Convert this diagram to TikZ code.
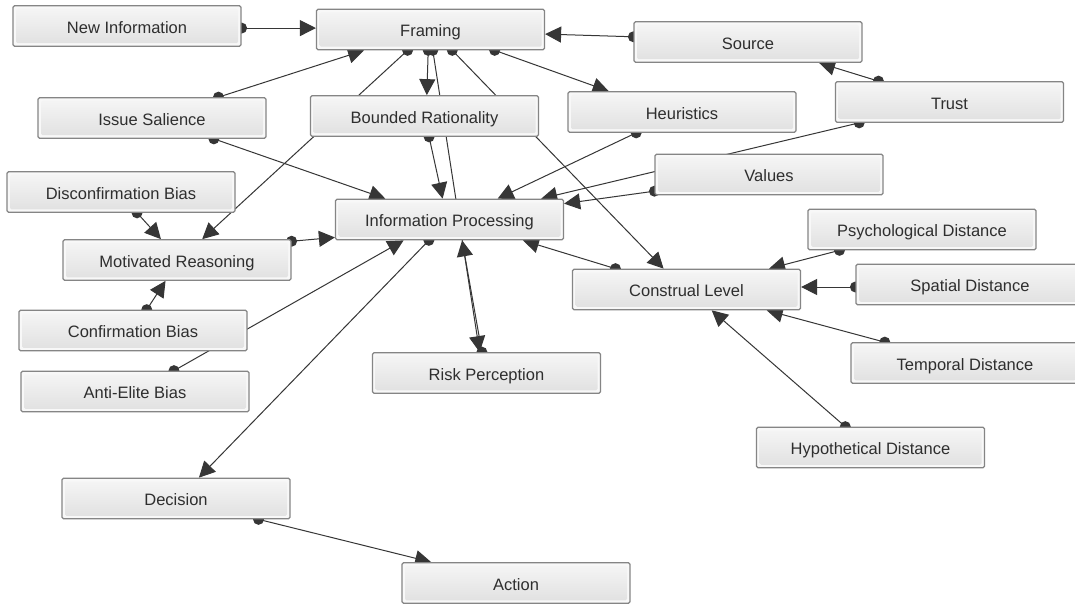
\documentclass[tikz,border=0pt]{standalone}
\usepackage{fontspec}
\setmainfont{Liberation Sans}
\usetikzlibrary{arrows.meta,calc}

\definecolor{edgec}{HTML}{363636}
\definecolor{boxline}{HTML}{858585}
\definecolor{boxout}{HTML}{F8F8F8}
\definecolor{boxtop}{HTML}{F6F6F6}
\definecolor{boxbot}{HTML}{E0E0E0}
\definecolor{txt}{HTML}{2E2E2E}

\pgfdeclarelayer{bg}
\pgfsetlayers{bg,main}

\tikzset{
  box/.style={draw=boxline, line width=1.2pt, rounded corners=1.5pt, fill=boxout,
    minimum width=228pt, minimum height=40.5pt, inner sep=0pt, text=txt,
    text height=14.8pt, text depth=0pt,
    font=\fontsize{16.5}{18}\selectfont,
    path picture={\shade[top color=boxtop, bottom color=boxbot]
      ([xshift=3pt,yshift=-3pt]path picture bounding box.north west) rectangle
      ([xshift=-3pt,yshift=3pt]path picture bounding box.south east);}},
  link/.style={draw=edgec, line width=1pt, -{Triangle[length=16pt,width=16pt]}},
  dotc/.style={fill=edgec}
}

\begin{document}
\begin{tikzpicture}[x=1pt,y=-1pt]
\clip (0,0) rectangle (1075,604);

% concept boxes
\node[box] (newinfo)   at (127,26)      {New Information};
\node[box] (framing)   at (430.5,29.5)  {Framing};
\node[box] (source)    at (748,42)      {Source};
\node[box] (trust)     at (949.5,102)   {Trust};
\node[box] (heur)      at (682,112)     {Heuristics};
\node[box] (values)    at (769,174.5)   {Values};
\node[box] (issue)     at (152,118)     {Issue Salience};
\node[box] (bounded)   at (424.5,116)   {Bounded Rationality};
\node[box] (disconf)   at (121,192)     {Disconfirmation Bias};
\node[box] (motiv)     at (177,260)     {Motivated Reasoning};
\node[box] (confirm)   at (133,330.5)   {Confirmation Bias};
\node[box] (antielite) at (135,391.5)   {Anti-Elite Bias};
\node[box] (infoproc)  at (449.5,219.5) {Information Processing};
\node[box] (risk)      at (486.5,373)   {Risk Perception};
\node[box] (construal) at (686.5,289.5) {Construal Level};
\node[box] (psych)     at (922,229.5)   {Psychological Distance};
\node[box] (spatial)   at (970,284.5)   {Spatial Distance};
\node[box] (temporal)  at (965,363)     {Temporal Distance};
\node[box] (hypo)      at (870.5,447.5) {Hypothetical Distance};
\node[box] (decision)  at (176,498.5)   {Decision};
\node[box] (action)    at (516,583)     {Action};

\begin{pgfonlayer}{bg}
\fill[white] (0,0) rectangle (1075,604);
% links: dot at the source box, triangle at the target box
\draw[link] ($(newinfo.north east)!.55!(newinfo.south east)$) coordinate (d1) -- (d1 -| framing.west);
\draw[link] ($(issue.north west)!.79!(issue.north east)$) coordinate (d2) -- ($(framing.south west)!.21!(framing.south east)$);
\draw[link] ($(issue.south west)!.77!(issue.south east)$) coordinate (d3) -- ($(infoproc.north west)!.22!(infoproc.north east)$);
\draw[link] ($(framing.south west)!.40!(framing.south east)$) coordinate (d4) -- ($(motiv.north west)!.61!(motiv.north east)$);
\draw[link] ($(framing.south west)!.49!(framing.south east)$) coordinate (d5) -- ($(bounded.north west)!.51!(bounded.north east)$);
\draw[link] ($(framing.south west)!.51!(framing.south east)$) coordinate (d6) -- ($(risk.north west)!.47!(risk.north east)$);
\draw[link] ($(framing.south west)!.595!(framing.south east)$) coordinate (d7) -- ($(construal.north west)!.40!(construal.north east)$);
\draw[link] ($(framing.south west)!.78!(framing.south east)$) coordinate (d8) -- ($(heur.north west)!.18!(heur.north east)$);
\draw[link] ($(source.north west)!.375!(source.south west)$) coordinate (d9) -- ($(framing.north east)!.61!(framing.south east)$);
\draw[link] ($(trust.north west)!.19!(trust.north east)$) coordinate (d10) -- ($(source.south west)!.81!(source.south east)$);
\draw[link] ($(trust.south west)!.106!(trust.south east)$) coordinate (d11) -- ($(infoproc.north west)!.90!(infoproc.north east)$);
\draw[link] ($(heur.south west)!.30!(heur.south east)$) coordinate (d12) -- ($(infoproc.north west)!.71!(infoproc.north east)$);
\draw[link] ($(values.north west)!.90!(values.south west)$) coordinate (d13) -- ($(infoproc.north east)!.12!(infoproc.south east)$);
\draw[link] ($(construal.north west)!.19!(construal.north east)$) coordinate (d14) -- ($(infoproc.south west)!.82!(infoproc.south east)$);
\draw[link] ($(psych.south west)!.14!(psych.south east)$) coordinate (d15) -- ($(construal.north west)!.86!(construal.north east)$);
\draw[link] ($(spatial.north west)!.56!(spatial.south west)$) coordinate (d16) -- (d16 -| construal.east);
\draw[link] ($(temporal.north west)!.15!(temporal.north east)$) coordinate (d17) -- ($(construal.south west)!.85!(construal.south east)$);
\draw[link] ($(hypo.north west)!.39!(hypo.north east)$) coordinate (d18) -- ($(construal.south west)!.61!(construal.south east)$);
\draw[link] ($(disconf.south west)!.57!(disconf.south east)$) coordinate (d19) -- ($(motiv.north west)!.43!(motiv.north east)$);
\draw[link] ($(confirm.north west)!.56!(confirm.north east)$) coordinate (d20) -- ($(motiv.south west)!.45!(motiv.south east)$);
\draw[link] ($(motiv.north east)!.05!(motiv.south east)$) coordinate (d21) -- ($(infoproc.north west)!.93!(infoproc.south west)$);
\draw[link] ($(antielite.north west)!.67!(antielite.north east)$) coordinate (d22) -- ($(infoproc.south west)!.30!(infoproc.south east)$);
\draw[link] ($(infoproc.south west)!.41!(infoproc.south east)$) coordinate (d23) -- ($(decision.north west)!.60!(decision.north east)$);
\draw[link] ($(decision.south west)!.86!(decision.south east)$) coordinate (d24) -- ($(action.north west)!.13!(action.north east)$);
\draw[link] ($(bounded.south west)!.52!(bounded.south east)$) coordinate (d25) -- ($(infoproc.north west)!.47!(infoproc.north east)$);
\draw[link] ($(risk.north west)!.48!(risk.north east)$) coordinate (d26) -- ($(infoproc.south west)!.555!(infoproc.south east)$);
\foreach \i in {1,...,26} \fill[dotc] (d\i) circle (5.5pt);
\end{pgfonlayer}
\end{tikzpicture}
\end{document}
